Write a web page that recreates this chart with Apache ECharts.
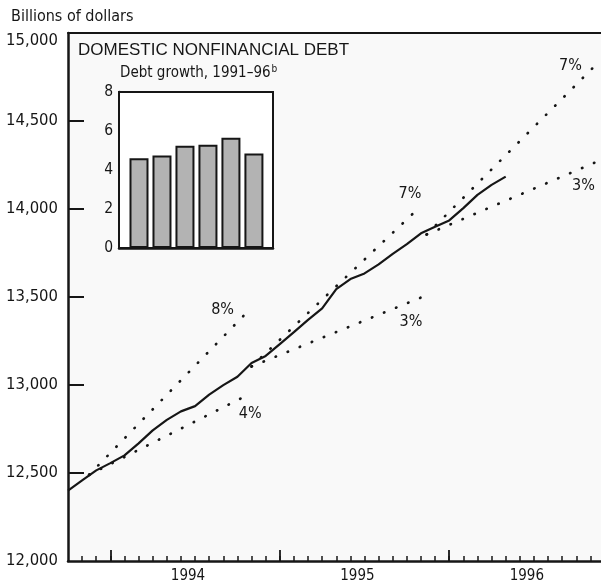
<!DOCTYPE html>
<html>
<head>
<meta charset="utf-8">
<script src="https://cdn.jsdelivr.net/npm/echarts@6/dist/echarts.min.js"></script>
<style>
  html, body { margin: 0; padding: 0; background: #fff; }
  #chart { width: 601px; height: 585px; }
</style>
</head>
<body>
<div id="chart"></div>
<script>
// ---------- DATA ----------
// x positions are months counted from January 1994 (0 = Jan 1994)
const debtStartMonth = -3; // October 1993
const debtLevel = [12400, 12458, 12515, 12556, 12600, 12668, 12742, 12802, 12850, 12880,
  12945, 12999, 13047, 13125, 13165, 13232, 13300, 13370, 13435, 13545, 13602, 13634,
  13685, 13745, 13800, 13862, 13899, 13935, 14005, 14080, 14137, 14184];

// monitoring ranges: [month, billions of dollars]
const range94High = [[-1.5, 12490], [10, 13440]];   // 8%
const range94Low  = [[-1.5, 12490], [9.9, 12950]];  // 4%
const range95High = [[10, 13105], [22, 14017]];     // 7%
const range95Low  = [[10, 13105], [22, 13497]];     // 3%
const range96High = [[22.4, 13855], [34.5, 14828]]; // 7%
const range96Low  = [[22.4, 13855], [34.5, 14270]]; // 3%
const rangeLabels = ['8%', '4%', '7%', '3%', '7%', '3%'];

const yearLabels = ['1994', '1995', '1996'];
const yTicks = [12000, 12500, 13000, 13500, 14000, 14500, 15000];

// inset: debt growth 1991-96 (percent)
const insetYears = ['1991', '1992', '1993', '1994', '1995', '1996'];
const insetGrowth = [4.6, 4.75, 5.25, 5.3, 5.65, 4.85];
const insetTicks = [0, 2, 4, 6, 8];

// ---------- CHART ----------
const NARROW = '"Liberation Sans Narrow", "Arial Narrow", "Nimbus Sans Narrow", "DejaVu Sans Condensed", "Roboto Condensed", sans-serif';
const SANS = '"Liberation Sans", Arial, Helvetica, sans-serif';
const INK = '#161616';

const debtData = debtLevel.map((v, i) => [debtStartMonth + i, v]);

const monthTicks = [];
for (let m = -2; m <= 34; m++) monthTicks.push(m);
const yearTicks = yearLabels.map((y, i) => i * 12);
const yearLabelPos = yearLabels.map((y, i) => i * 12 + 5.5);

function rangeSeries(pts, text, offset) {
  return {
    type: 'line',
    xAxisIndex: 0, yAxisIndex: 0,
    data: pts.map((p, i) => i === pts.length - 1
      ? { value: p, label: { show: true, formatter: text, position: 'inside', offset: offset,
          color: INK, fontFamily: NARROW, fontSize: 16, fontWeight: 'normal' } }
      : p),
    symbol: 'circle', symbolSize: 0.1, showSymbol: true,
    itemStyle: { color: 'rgba(0,0,0,0)', borderWidth: 0 },
    lineStyle: { color: INK, width: 2.7, type: [0.4, 12.6], cap: 'round' },
    silent: true, animation: false, z: 3
  };
}

const chart = echarts.init(document.getElementById('chart'), null, { renderer: 'canvas' });

chart.setOption({
  backgroundColor: '#ffffff',
  animation: false,
  title: [
    { text: 'Billions of dollars', left: 11, top: 9, padding: 0,
      textStyle: { fontFamily: NARROW, fontSize: 16, fontWeight: 'normal', color: INK } },
    { text: 'DOMESTIC NONFINANCIAL DEBT', left: 78, top: 42, padding: 0,
      textStyle: { fontFamily: SANS, fontSize: 17, fontWeight: 'normal', color: INK } },
    { text: '{a|Debt growth, 1991–96}{b|b}', left: 120, top: 64, padding: 0,
      textStyle: { fontWeight: 'normal', rich: {
        a: { fontFamily: NARROW, fontSize: 15, fontWeight: 'normal', color: INK, lineHeight: 18 },
        b: { fontFamily: NARROW, fontSize: 10, fontWeight: 'normal', color: INK, verticalAlign: 'top', lineHeight: 18, padding: [0, 0, 8, 1] }
      } } }
  ],
  grid: [
    { left: 68, top: 33, right: 0, bottom: 24, show: true, borderWidth: 0,
      backgroundColor: '#f9f9f9', containLabel: false },
    { left: 119, top: 92, width: 154, height: 156, show: true, borderColor: INK, borderWidth: 2,
      backgroundColor: '#ffffff', containLabel: false, z: 5 }
  ],
  xAxis: [
    { type: 'value', gridIndex: 0, position: 'bottom', min: -3, max: 34.75,
      axisLine: { show: true, onZero: false, lineStyle: { color: INK, width: 2.5 } },
      axisTick: { show: true, inside: true, length: 5, customValues: monthTicks, lineStyle: { color: INK, width: 1.5 } },
      axisLabel: { show: true, customValues: yearLabelPos, margin: 8,
        formatter: (v) => yearLabels[Math.round((v - 5.5) / 12)],
        fontFamily: NARROW, fontSize: 15, color: INK },
      splitLine: { show: false } },
    { type: 'value', gridIndex: 0, position: 'bottom', offset: 0, min: -3, max: 34.75,
      axisLine: { show: false },
      axisTick: { show: true, inside: true, length: 11, customValues: yearTicks, lineStyle: { color: INK, width: 1.8 } },
      axisLabel: { show: false }, splitLine: { show: false } },
    { type: 'value', gridIndex: 0, position: 'top', offset: 0, min: -3, max: 34.75,
      axisLine: { show: true, onZero: false, lineStyle: { color: INK, width: 2 } },
      axisTick: { show: false }, axisLabel: { show: false }, splitLine: { show: false } },
    { type: 'value', gridIndex: 1, min: -0.87, max: 5.83,
      axisLine: { show: true, onZero: false, lineStyle: { color: INK, width: 2.5 } },
      axisTick: { show: false }, axisLabel: { show: false }, splitLine: { show: false } }
  ],
  yAxis: [
    { type: 'value', gridIndex: 0, min: 12000, max: 15000, interval: 500,
      axisLine: { show: true, onZero: false, lineStyle: { color: INK, width: 2.5 } },
      axisTick: { show: true, inside: true, length: 16, customValues: yTicks.slice(1, -1), lineStyle: { color: INK, width: 2 } },
      axisLabel: { show: true, margin: 10, fontFamily: NARROW, fontSize: 16.5, color: INK,
        formatter: (v) => v === 15000 ? '{top|15,000}' : v.toLocaleString('en-US'),
        rich: { top: { fontFamily: NARROW, fontSize: 16.5, color: INK, padding: [16, 0, 0, 0] } } },
      splitLine: { show: false } },
    { type: 'value', gridIndex: 1, min: 0, max: 8, interval: 2,
      axisLine: { show: true, onZero: false, lineStyle: { color: INK, width: 2.5 } },
      axisTick: { show: true, inside: true, length: 10, customValues: insetTicks.slice(1, -1), lineStyle: { color: INK, width: 1.5 } },
      axisLabel: { show: true, margin: 6, fontFamily: NARROW, fontSize: 15.5, color: INK },
      splitLine: { show: false } }
  ],
  series: [
    { type: 'line', name: 'Domestic nonfinancial debt', xAxisIndex: 0, yAxisIndex: 0,
      data: debtData, showSymbol: false, symbol: 'none', smooth: false,
      lineStyle: { color: INK, width: 2.2 }, z: 4, silent: true },
    rangeSeries(range94High, rangeLabels[0], [-29, 2]),
    rangeSeries(range94Low, rangeLabels[1], [0, 20]),
    rangeSeries(range95High, rangeLabels[2], [-11, -12]),
    rangeSeries(range95Low, rangeLabels[3], [-10, 24]),
    rangeSeries(range96High, rangeLabels[4], [-27, 3]),
    rangeSeries(range96Low, rangeLabels[5], [-14, 24]),
    { type: 'bar', name: 'Debt growth', xAxisIndex: 3, yAxisIndex: 1,
      data: insetGrowth.map((v, i) => [i, v]), barWidth: 19,
      itemStyle: { color: '#b3b3b3', borderColor: INK, borderWidth: 2 }, z: 6, silent: true }
  ]
});
</script>
</body>
</html>
